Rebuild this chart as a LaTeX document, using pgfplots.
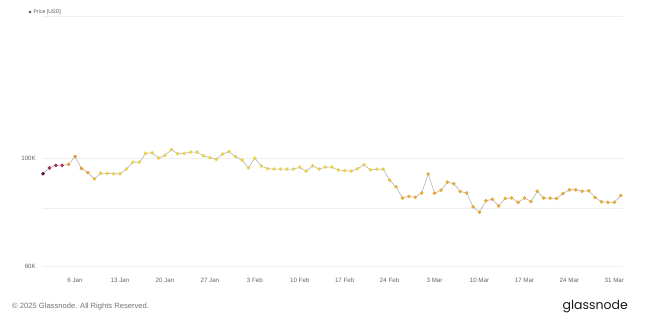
\documentclass[border=0pt]{standalone}
\usepackage{pgfplots}
\pgfplotsset{compat=1.18}
\usepackage{pgfplotstable}
\usepackage{fontspec}
\setmainfont{Liberation Sans}
\newfontfamily\logofont{Poppins}
\definecolor{gridc}{HTML}{EFEFEF}
\definecolor{linec}{HTML}{B5B5B5}
\pgfplotstableread{
i p c
0 93000 0.1
1 95600 1.0
2 96800 1.0
3 96800 1.05
4 97300 2.5
5 100900 2.5
6 95400 2.6
7 93500 2.9
8 90800 3.4
9 93200 3.8
10 93200 4
11 93000 4
12 93000 4
13 95100 4
14 98300 4
15 98200 4
16 102500 4
17 102700 4
18 100200 4
19 101500 4
20 104300 4
21 102300 4
22 102500 4
23 103100 4
24 103100 4
25 101300 4
26 100400 4
27 99600 4
28 102200 4
29 103300 4
30 100900 4
31 99300 4
32 95700 4
33 100200 4
34 96500 4
35 95300 4
36 95100 4
37 95100 4
38 95100 4
39 95100 4
40 95900 4
41 94200 4
42 96600 4
43 95100 4
44 96000 4
45 96000 4
46 94700 4
47 94400 4
48 94200 4
49 95300 4
50 97100 4
51 94700 4
52 95100 4
53 95000 3.8
54 90200 3.5
55 87400 3.3
56 82900 3.1
57 83500 3.0
58 83200 3.0
59 84900 3.0
60 92900 3.2
61 84800 3.0
62 86000 3.0
63 89400 3.0
64 88700 3.0
65 85500 3.0
66 84900 3.0
67 79500 3.0
68 77500 3.0
69 81800 3.0
70 82400 3.0
71 79800 3.0
72 82700 3.0
73 82900 3.0
74 81200 3.0
75 82900 3.0
76 81500 3.0
77 85600 3.0
78 82900 3.0
79 82800 3.0
80 82700 3.0
81 84700 3.0
82 86200 3.0
83 86200 3.0
84 85600 3.0
85 85800 3.0
86 83100 3.0
87 81400 3.0
88 81200 3.0
89 81200 3.0
90 83900 3.0
}\pricetable
\begin{document}
\begin{tikzpicture}
\useasboundingbox (0pt,0pt) rectangle (650pt,323pt);
\fill[white] (0pt,0pt) rectangle (650pt,323pt);
\begin{axis}[
  at={(42pt,57pt)}, anchor=south west,
  scale only axis, width=581pt, height=250pt,
  ymode=log, log basis y=10,
  xmin=-0.15, xmax=90.35, ymin=60000, ymax=197000,
  axis line style={draw=none},
  major tick length=0pt,
  xtick={5,12,...,89},
  xticklabels={6 Jan,13 Jan,20 Jan,27 Jan,3 Feb,10 Feb,17 Feb,24 Feb,3 Mar,10 Mar,17 Mar,24 Mar,31 Mar},
  ytick={60000,79000,100000,197000},
  yticklabels={60K,,100K,},
  ymajorgrids,
  grid style={gridc, line width=0.6pt},
  tick label style={font=\fontsize{6.2}{7}\selectfont, text=black!60},
  x tick label style={inner sep=0pt, anchor=north, yshift=-12pt},
  y tick label style={inner sep=0pt, anchor=east, xshift=-6pt},
  colormap={gn}{rgb255(0pt)=(90,14,72); rgb255(1pt)=(172,40,92); rgb255(2pt)=(224,138,58); rgb255(3pt)=(235,168,52); rgb255(4pt)=(234,210,76)},
  point meta min=0, point meta max=4,
  clip=false,
]
\addplot[linec, line width=0.6pt, no markers] table[x=i, y=p] {\pricetable};
\addplot[scatter, only marks, mark=*, mark size=1.6pt, scatter src=explicit,
  scatter/use mapped color={draw=mapped color, fill=mapped color}]
  table[x=i, y=p, meta=c] {\pricetable};
\end{axis}
\fill[black!70] (30pt,311pt) circle (1.4pt);
\node[anchor=west, inner sep=0, font=\fontsize{5.2}{6}\selectfont, text=black!65] at (33.5pt,311pt) {Price [USD]};
\node[anchor=west, inner sep=0, font=\fontsize{7.6}{9}\selectfont, text=black!55] at (12pt,16pt) {© 2025 Glassnode. All Rights Reserved.};
\node[anchor=east, inner sep=0, font=\logofont\fontsize{12.5}{14}\selectfont, text=black!90] at (628pt,16pt) {glassnode};
\end{tikzpicture}
\end{document}
